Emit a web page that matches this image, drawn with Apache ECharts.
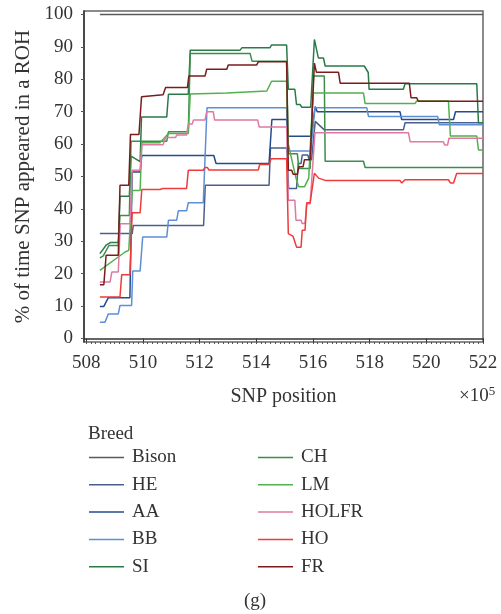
<!DOCTYPE html>
<html>
<head>
<meta charset="utf-8">
<script src="https://cdn.jsdelivr.net/npm/echarts@6/dist/echarts.min.js"></script>
<style>
  html, body { margin: 0; padding: 0; background: #fff; }
  #chart { width: 501px; height: 614px; }
</style>
</head>
<body>
<div id="chart"></div>
<script>
// x in units of 1e5 bp, y = % of time SNP appeared in a ROH
const xTicks = [508, 510, 512, 514, 516, 518, 520, 522]
const yTicks = [0, 10, 20, 30, 40, 50, 60, 70, 80, 90, 100]
const breeds = ['Bison', 'HE', 'AA', 'BB', 'SI', 'CH', 'LM', 'HOLFR', 'HO', 'FR']

const bison = [[508.48, 100], [522, 100]]

const he = [[508.48, 32.4], [509.62, 32.4], [509.66, 34.9], [512.14, 34.9], [512.2, 47.3], [514.45, 47.3],
  [514.5, 58.8], [515.08, 58.8], [515.14, 46.3], [515.42, 46.3], [515.48, 54.0], [515.58, 54.0], [515.62, 56.6],
  [515.82, 56.6], [515.86, 55.2], [515.95, 55.2], [516.08, 67.0], [516.4, 64.4], [519.19, 64.4], [519.25, 66.6], [522, 66.6]]

const aa = [[508.48, 9.9], [508.62, 9.9], [508.78, 12.6], [509.54, 12.6], [509.62, 51.4], [509.9, 51.4], [509.96, 56.5],
  [512.5, 56.5], [512.58, 54.0], [514.45, 54.0], [514.55, 67.6], [515.07, 67.6], [515.13, 62.4], [515.92, 62.4],
  [516.08, 71.6], [516.15, 70.0], [519.07, 70.0], [519.13, 67.6], [520.96, 67.6], [521.03, 70.0], [522, 70.0]]

const bb = [[508.48, 5.0], [508.66, 5.0], [508.78, 7.6], [509.13, 7.6], [509.19, 10.2], [509.6, 10.2], [509.64, 20.8],
  [509.9, 20.8], [509.99, 31.3], [510.84, 31.3], [510.9, 36.5], [511.19, 36.5], [511.25, 39.4], [511.54, 39.4],
  [511.6, 41.9], [512.13, 41.9], [512.26, 71.2], [515.07, 71.2], [515.13, 57.9], [515.92, 57.9], [516.07, 71.2],
  [517.9, 71.2], [517.96, 68.5], [520.4, 68.5], [520.46, 66.0], [522, 66.0]]

const si = [[508.48, 26.2], [508.55, 26.5], [508.7, 28.8], [508.85, 29.6], [509.13, 29.6], [509.19, 43.9], [509.52, 43.9],
  [509.58, 56.3], [509.9, 54.6], [509.95, 68.4], [510.84, 68.4], [510.9, 75.4], [511.6, 75.4], [511.67, 89.0],
  [513.43, 89.0], [513.49, 89.7], [514.48, 89.7], [514.54, 90.6], [515.07, 90.6], [515.13, 76.9], [515.36, 76.9],
  [515.42, 72.2], [515.55, 72.2], [515.6, 71.4], [515.92, 71.4], [516.05, 92.3], [516.19, 86.6], [516.37, 86.6],
  [516.43, 84.1], [517.81, 84.1], [517.95, 82.1], [517.98, 76.9], [519.19, 76.9], [519.25, 78.6], [521.78, 78.6],
  [521.84, 66.6], [522, 66.6]]

const ch = [[508.48, 24.9], [508.6, 25.5], [508.8, 28.7], [509.13, 28.7], [509.19, 38.0], [509.52, 38.0], [509.58, 60.9],
  [510.84, 60.9], [510.9, 63.8], [511.6, 63.8], [511.67, 88.0], [513.78, 88.0], [513.85, 85.6], [515.07, 85.6],
  [515.13, 57.0], [515.45, 57.0], [515.5, 52.5], [515.9, 52.5], [516.02, 81.0], [516.4, 81.0], [516.43, 54.7],
  [517.78, 54.7], [517.84, 52.8], [522, 52.8]]

const lm = [[508.48, 21.0], [509.37, 26.7], [509.5, 27.2], [509.62, 45.7], [509.9, 45.7], [509.96, 60.4], [510.6, 60.4],
  [510.9, 63.3], [511.6, 63.3], [511.67, 75.5], [512.96, 75.8], [513.01, 76.4], [514.37, 76.4], [514.54, 79.4],
  [515.07, 79.4], [515.13, 60.0], [515.4, 49.5], [515.5, 46.8], [515.7, 46.8], [515.85, 49.5], [516.0, 75.8],
  [517.78, 75.8], [517.84, 72.5], [519.6, 72.5], [519.66, 73.3], [520.78, 73.3], [520.85, 62.5], [521.78, 62.5],
  [521.84, 58.2], [522, 58.2]]

const holfr = [[508.48, 17.4], [508.84, 17.4], [508.9, 20.5], [509.13, 20.5], [509.2, 35.4], [509.54, 35.4],
  [509.62, 51.9], [509.9, 51.9], [509.96, 59.8], [510.71, 59.8], [510.8, 62.0], [511.15, 62.0], [511.19, 62.8],
  [511.54, 62.8], [511.6, 66.2], [511.74, 66.2], [511.78, 67.4], [512.19, 67.4], [512.25, 70.0], [512.48, 70.0],
  [512.53, 67.4], [514.05, 67.4], [514.1, 65.3], [515.07, 65.3], [515.13, 42.7], [515.36, 42.7], [515.4, 36.5],
  [515.58, 36.5], [515.62, 35.5], [515.72, 35.5], [515.78, 41.6], [515.9, 41.6], [516.07, 63.5], [519.37, 63.5],
  [519.43, 60.7], [520.6, 60.7], [520.65, 59.7], [520.75, 59.7], [520.8, 61.8], [522, 61.8]]

const ho = [[508.48, 12.8], [509.19, 12.8], [509.25, 19.7], [509.54, 19.7], [509.62, 38.8], [509.9, 38.8],
  [509.96, 46.0], [510.6, 46.0], [510.7, 46.3], [511.54, 46.3], [511.6, 51.9], [512.13, 51.9], [512.19, 52.8],
  [512.27, 52.8], [512.33, 52.0], [514.07, 52.0], [514.12, 53.7], [514.45, 53.7], [514.52, 55.5], [515.07, 55.5],
  [515.13, 32.4], [515.3, 31.5], [515.42, 28.2], [515.58, 28.2], [515.62, 33.4], [515.72, 33.4], [515.78, 41.9],
  [515.9, 41.9], [516.05, 51.0], [516.2, 49.5], [516.43, 48.8], [519.07, 48.8], [519.13, 48.0], [519.2, 48.0],
  [519.25, 49.0], [520.78, 49.0], [520.85, 48.0], [520.96, 48.0], [521.07, 50.9], [522, 50.9]]

const fr = [[508.48, 16.6], [508.62, 16.6], [508.7, 25.7], [509.13, 25.7], [509.19, 47.3], [509.5, 47.3],
  [509.56, 63.0], [509.86, 63.0], [509.95, 74.6], [510.71, 75.2], [510.8, 77.5], [511.57, 77.5], [511.62, 81.0],
  [512.19, 81.0], [512.25, 83.1], [512.96, 83.1], [513.01, 84.4], [514.01, 84.4], [514.07, 85.4], [515.07, 85.4],
  [515.13, 51.9], [515.25, 51.9], [515.3, 50.7], [515.45, 50.7], [515.5, 53.0], [515.65, 53.0], [515.7, 55.2],
  [515.9, 55.2], [516.05, 85.0], [516.12, 82.2], [516.9, 82.2], [516.96, 78.8], [519.4, 78.8], [519.46, 74.3],
  [519.66, 74.3], [519.72, 73.2], [522, 73.2]]

const seriesData = [bison, he, aa, bb, si, ch, lm, holfr, ho, fr]
const colors = ['#5a5a5a', '#4a5f8e', '#244b8e', '#5d8fd6', '#2a7a48', '#3d8c4c', '#52b04e', '#de7aa0', '#f03a3a', '#7a1c1c']

// small ticks along the bottom axis
const minorX = []
for (let v = 508; v <= 522.001; v += 1 / 6) minorX.push(+v.toFixed(3))

const font = 'Liberation Serif'
const textColor = '#333'

const myChart = echarts.init(document.getElementById('chart'), null, {renderer: 'canvas'})

const legendBase = {
  orient: 'vertical', top: 443,
  icon: 'rect', itemWidth: 35, itemHeight: 1.5, itemGap: 8.3,
  textStyle: {fontFamily: font, fontSize: 19, color: textColor, padding: [0, 0, 0, 3]}
}

const option = {
  animation: false,
  backgroundColor: '#fff',
  textStyle: {fontFamily: font},
  grid: {
    left: 84, right: 18, top: 11, bottom: 272,
    show: true, borderColor: '#666', borderWidth: 1.5, backgroundColor: 'transparent'
  },
  title: {
    text: 'Breed', left: 83, top: 420,
    textStyle: {fontFamily: font, fontSize: 19, fontWeight: 'normal', color: textColor}
  },
  legend: [
    Object.assign({data: breeds.slice(0, 5), left: 84}, legendBase),
    Object.assign({data: breeds.slice(5), left: 253}, legendBase)
  ],
  xAxis: [
    {
      type: 'value', min: 507.92, max: 522,
      name: 'SNP position', nameLocation: 'middle', nameGap: 45,
      nameTextStyle: {fontFamily: font, fontSize: 20, color: textColor},
      axisLine: {show: true, lineStyle: {color: '#333', width: 1.5}},
      axisTick: {show: true, customValues: xTicks, length: 4, lineStyle: {color: '#333'}},
      axisLabel: {customValues: xTicks, margin: 12, fontFamily: font, fontSize: 19, color: textColor},
      splitLine: {show: false}
    },
    {
      type: 'value', min: 507.92, max: 522, position: 'bottom',
      axisLine: {show: false},
      axisTick: {show: true, customValues: minorX, length: 2, lineStyle: {color: '#555'}},
      axisLabel: {show: false},
      splitLine: {show: false}
    }
  ],
  yAxis: {
    type: 'value', min: -1.08, max: 101.08,
    name: '% of time SNP appeared in a ROH', nameLocation: 'middle', nameGap: 40,
    nameTextStyle: {fontFamily: font, fontSize: 21, color: textColor},
    axisLine: {show: true, lineStyle: {color: '#333', width: 1.5}},
    axisTick: {show: true, customValues: yTicks, length: 3, lineStyle: {color: '#555'}},
    axisLabel: {customValues: yTicks, margin: 11, fontFamily: font, fontSize: 19, color: textColor},
    splitLine: {show: false}
  },
  graphic: [
    {
      type: 'text', left: 459, top: 385,
      style: {
        text: '×10{s|5}', fontFamily: font, fontSize: 19, fill: textColor,
        rich: {s: {fontFamily: font, fontSize: 13, verticalAlign: 'top', padding: [0, 0, 9, 0]}}
      }
    },
    {
      type: 'text', left: 244, top: 592,
      style: {text: '(g)', fontFamily: font, fontSize: 19, fill: textColor}
    }
  ],
  series: breeds.map((name, i) => ({
    name: name,
    type: 'line',
    data: seriesData[i],
    symbol: 'none',
    color: colors[i],
    lineStyle: {width: 1.5, color: colors[i]},
    xAxisIndex: 0
  }))
}

myChart.setOption(option)
</script>
</body>
</html>
